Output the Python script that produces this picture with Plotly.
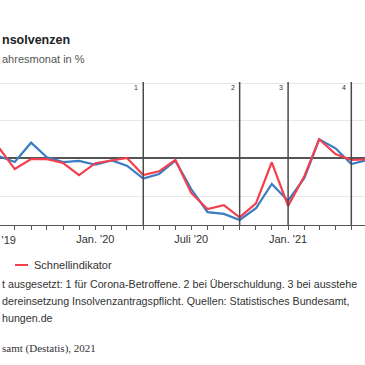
import plotly.graph_objects as go

months = ["2019-07-01", "2019-08-01", "2019-09-01", "2019-10-01", "2019-11-01", "2019-12-01",
          "2020-01-01", "2020-02-01", "2020-03-01", "2020-04-01", "2020-05-01", "2020-06-01",
          "2020-07-01", "2020-08-01", "2020-09-01", "2020-10-01", "2020-11-01", "2020-12-01",
          "2021-01-01", "2021-02-01", "2021-03-01", "2021-04-01", "2021-05-01", "2021-06-01"]
insolvenzen = [1.3, -1.9, 8.4, 0.6, -1.9, -1.3, -3.3, -1.0, -3.8, -10.7, -8.2, -1.2,
               -16.2, -28.5, -29.4, -32.6, -26.4, -13.5, -22.4, -10.3, 10.2, 5.4, -2.9, -0.8]
schnellindikator = [6.1, -5.6, -0.3, -0.3, -2.4, -8.8, -2.5, -1.2, 0.3, -8.8, -6.8, -0.8,
                    -18.3, -26.8, -24.8, -31.2, -23.8, -2.0, -25.2, -9.3, 10.2, 2.4, -0.8, -0.5]
marker_dates = ["2020-04-01", "2020-10-01", "2021-01-01", "2021-05-01"]
marker_labels = ["1", "2", "3", "4"]
tick_dates = months
tick_text = ["Jan. '20" if d == "2020-01-01" else
             "Juli '20" if d == "2020-07-01" else "Jan. '21" if d == "2021-01-01" else ""
             for d in months]
first_tick_label = "Juli '19"

BLUE = "#3a7cc2"
RED = "#f2404f"
W, H = 365, 365
T, B = 82, 140
PH = H - T - B


def px(x):
    return x / W


def py(y):
    return (H - B - y) / PH


fig = go.Figure()
fig.add_trace(go.Scatter(x=months, y=insolvenzen, mode="lines", name="Insolvenzen",
                         line=dict(color=BLUE, width=2.2), showlegend=False))
fig.add_trace(go.Scatter(x=months, y=schnellindikator, mode="lines", name="Schnellindikator",
                         line=dict(color=RED, width=2.2), showlegend=False))

shapes = []
annotations = []
for d, lab in zip(marker_dates, marker_labels):
    shapes.append(dict(type="line", xref="x", yref="paper", x0=d, x1=d, y0=0, y1=1,
                       line=dict(color="#4a4a4a", width=1.5), layer="above"))
    annotations.append(dict(text=lab, x=d, y=py(87), xref="x", yref="paper",
                            xanchor="right", yanchor="middle", xshift=-3, showarrow=False,
                            font=dict(size=7, color="#333", family="Liberation Sans")))

# first tick label (its tick lies just left of the visible window)
annotations.append(dict(text=first_tick_label, x=px(-1.5), y=py(240), xref="paper", yref="paper",
                        xanchor="center", yanchor="middle", showarrow=False,
                        font=dict(size=11, color="#333", family="Liberation Sans")))

# legend (manual)
shapes.append(dict(type="line", xref="paper", yref="paper", x0=px(15), x1=px(28),
                   y0=py(265), y1=py(265), line=dict(color=RED, width=2)))
annotations.append(dict(text="Schnellindikator", x=px(32), y=py(265), xref="paper", yref="paper",
                        xanchor="left", yanchor="middle", showarrow=False,
                        font=dict(size=11, color="#333", family="Liberation Sans")))

FN = 10.7
annotations += [
    dict(text="<b>nsolvenzen</b>", x=px(0), y=py(40), xref="paper", yref="paper",
         xanchor="left", yanchor="middle", showarrow=False,
         font=dict(size=12.5, color="#222", family="Liberation Sans")),
    dict(text="ahresmonat in %", x=px(0), y=py(59), xref="paper", yref="paper",
         xanchor="left", yanchor="middle", showarrow=False,
         font=dict(size=11, color="#555", family="Liberation Sans")),
    dict(text="t ausgesetzt: 1 für Corona-Betroffene. 2 bei Überschuldung. 3 bei ausstehe",
         x=px(0), y=py(284), xref="paper", yref="paper", xanchor="left", yanchor="middle",
         showarrow=False, font=dict(size=FN, color="#333", family="Liberation Sans")),
    dict(text="dereinsetzung Insolvenzantragspflicht. Quellen: Statistisches Bundesamt,",
         x=px(0), y=py(301), xref="paper", yref="paper", xanchor="left", yanchor="middle",
         showarrow=False, font=dict(size=FN, color="#333", family="Liberation Sans")),
    dict(text="hungen.de",
         x=px(0), y=py(318), xref="paper", yref="paper", xanchor="left", yanchor="middle",
         showarrow=False, font=dict(size=FN, color="#333", family="Liberation Sans")),
    dict(text="samt (Destatis), 2021",
         x=px(0), y=py(348), xref="paper", yref="paper", xanchor="left", yanchor="middle",
         showarrow=False, font=dict(size=11, color="#333", family="Liberation Serif")),
]

fig.update_layout(
    width=W, height=H,
    margin=dict(l=0, r=0, t=T, b=B),
    paper_bgcolor="white", plot_bgcolor="white",
    shapes=shapes, annotations=annotations,
    xaxis=dict(type="date", range=["2019-07-04", "2021-05-27"],
               tickmode="array", tickvals=tick_dates, ticktext=tick_text,
               ticks="outside", ticklen=4, tickcolor="#555", tickwidth=1,
               showline=True, linecolor="#555", linewidth=1,
               showgrid=False, zeroline=False,
               tickfont=dict(size=11, color="#333", family="Liberation Sans")),
    yaxis=dict(range=[-35.3, 40.6], tickmode="array", tickvals=[-20, 0, 20, 40],
               showticklabels=False, showgrid=True, gridcolor="#e8e8e8", gridwidth=1,
               zeroline=True, zerolinecolor="#555", zerolinewidth=1.5, showline=False),
)

fig.write_html("out.html", config={"displayModeBar": False},
               post_script="document.body.style.margin='0';document.body.style.overflow='hidden';")
